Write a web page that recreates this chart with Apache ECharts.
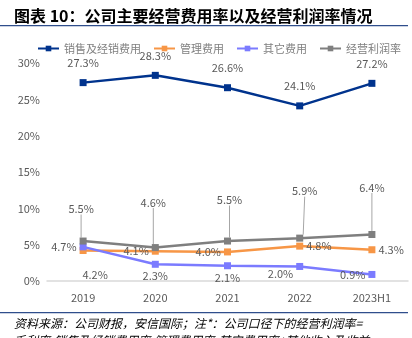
<!DOCTYPE html>
<html><head><meta charset="utf-8">
<script src="https://cdn.jsdelivr.net/npm/echarts@6/dist/echarts.min.js"></script>
<style>html,body{margin:0;padding:0;background:#fff}#c{width:412px;height:338px}</style>
</head><body><div id="c"></div>
<script>
var categories = ['2019','2020','2021','2022','2023H1'];
var sellingRate = [27.3, 28.3, 26.6, 24.1, 27.2];
var adminRate = [4.2, 4.1, 4.0, 4.8, 4.3];
var otherRate = [4.7, 2.3, 2.1, 2.0, 0.9];
var opMargin = [5.5, 4.6, 5.5, 5.9, 6.4];
var yTicks = [0, 5, 10, 15, 20, 25, 30];
var seriesNames = ['销售及经销费用', '管理费用', '其它费用', '经营利润率'];

var FONT = '"Noto Sans CJK SC", "Noto Sans", sans-serif';
var LBL = {fontSize: 11, color: '#595959', fontFamily: FONT};
function fmt(p){ return p.value.toFixed(1) + '%'; }

var adminPos = ['bottom','left','left','right','right'];
var otherPos = ['left','bottom','bottom','left','left'];
var greyDy = [-18, -31, -27, -33, -33];
var greyDx = [-2, -2, 2, 5, 0];

var chart = echarts.init(document.getElementById('c'));
chart.setOption({
  animation: false,
  grid: {left: 47, right: 4, top: 63, bottom: 57},
  legend: {
    top: 38, left: 32, itemWidth: 21, itemHeight: 7, itemGap: 12,
    textStyle: {fontSize: 11, color: '#7F7F7F', fontFamily: FONT},
    data: seriesNames
  },
  xAxis: {
    type: 'category', data: categories, boundaryGap: true,
    axisLine: {lineStyle: {color: '#d9d9d9', width: 1.5}},
    axisTick: {show: false},
    axisLabel: {fontSize: 11, color: '#595959', margin: 11, fontFamily: FONT}
  },
  yAxis: {
    type: 'value', min: yTicks[0], max: yTicks[yTicks.length-1], interval: 5,
    axisLine: {show: false}, axisTick: {show: false}, splitLine: {show: false},
    axisLabel: {fontSize: 11, color: '#595959', margin: 7, formatter: '{value}%', fontFamily: FONT}
  },
  graphic: [
    {type: 'text', left: 14, top: 8, style: {text: '图表 10：公司主要经营费用率以及经营利润率情况', font: 'bold 16px "Noto Sans CJK SC"', fill: '#000'}},
    {type: 'rect', shape: {x: 0, y: 25, width: 408, height: 1.2}, style: {fill: '#2F4E8C'}},
    {type: 'rect', shape: {x: 0, y: 312, width: 408, height: 1.2}, style: {fill: '#2F4E8C'}},
    {type: 'text', left: 14, top: 317, style: {text: '资料来源：公司财报，安信国际；注*：公司口径下的经营利润率=', font: 'italic 12px "Noto Sans CJK SC"', fill: '#000'}},
    {type: 'text', left: 14, top: 334, style: {text: '毛利率-销售及经销费用率-管理费用率-其它费用率+其他收入及收益', font: 'italic 12px "Noto Sans CJK SC"', fill: '#000'}}
  ],
  series: [
    {
      name: seriesNames[0], type: 'line', data: sellingRate,
      symbol: 'rect', symbolSize: 7, color: '#00338D',
      lineStyle: {width: 2.5},
      label: Object.assign({show: true, position: 'top', distance: 11, formatter: fmt}, LBL)
    },
    {
      name: seriesNames[1], type: 'line', z: 2,
      data: adminRate.map(function(v, i){
        var lab = {position: adminPos[i], distance: 3};
        if (i === 0) { lab.offset = [12, 12]; }
        return {value: v, label: lab};
      }),
      symbol: 'rect', symbolSize: 7, color: '#F79646',
      lineStyle: {width: 2.5},
      label: Object.assign({show: true, formatter: fmt}, LBL)
    },
    {
      name: seriesNames[2], type: 'line', z: 3,
      data: otherRate.map(function(v, i){
        var lab = {position: otherPos[i], distance: 3};
        if (i === 3) { lab.offset = [0, 7]; }
        return {value: v, label: lab};
      }),
      symbol: 'rect', symbolSize: 7, color: '#7B7BFF',
      lineStyle: {width: 2.5},
      label: Object.assign({show: true, formatter: fmt}, LBL)
    },
    {
      name: seriesNames[3], type: 'line', data: opMargin, z: 4,
      symbol: 'rect', symbolSize: 7, color: '#7F7F7F',
      lineStyle: {width: 2.5},
      label: Object.assign({show: true, position: 'top', distance: 5, formatter: fmt}, LBL),
      labelLine: {show: true, lineStyle: {color: '#A6A6A6', width: 1}},
      labelLayout: function(p){ return {dx: greyDx[p.dataIndex], dy: greyDy[p.dataIndex]}; }
    }
  ]
});
</script></body></html>
